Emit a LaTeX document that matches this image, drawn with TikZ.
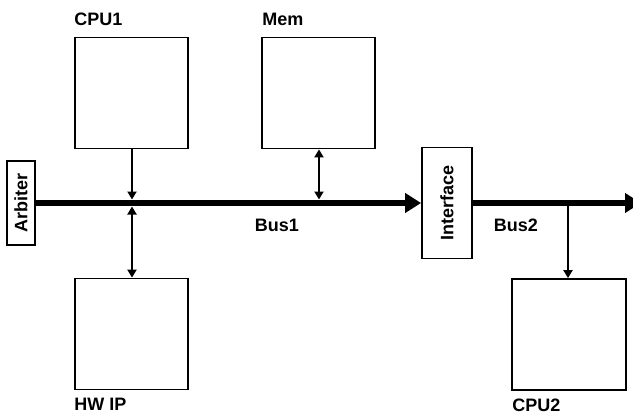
\documentclass[tikz,border=0pt]{standalone}
\usepackage{fontspec}
\setmainfont{Liberation Sans}
\usetikzlibrary{arrows.meta,positioning}

\tikzstyle{every node}=[font={\fontsize{18}{21}\selectfont\bfseries}, inner sep=0pt]
\tikzstyle{unit}=[draw=black, line width=1.8pt, minimum width=113pt, minimum height=111pt]
\tikzstyle{slim}=[draw=black, line width=1.8pt, rotate=90]
\tikzstyle{bus}=[line width=6.5pt, -{Triangle[length=16pt,width=19pt]}]
\tikzstyle{link}=[line width=2.5pt, -{Triangle[length=8pt,width=9pt]}]
\tikzstyle{duplex}=[line width=2.5pt, {Triangle[length=8pt,width=9pt]}-{Triangle[length=8pt,width=9pt]}]

\begin{document}
\begin{tikzpicture}[x=1pt, y=-1pt]
    \useasboundingbox (0,0) rectangle (633,415);

    % blocks
    \node [unit] (cpu1) at (131.5,93) {};
    \node [unit] (mem) at (318.5,93) {};
    \node [unit] (hwip) at (131.5,334) {};
    \node [unit, minimum width=114pt] (cpu2) at (569,334.5) {};
    \node [slim, minimum width=84pt, minimum height=28pt] (arb) at (21,203) {Arbiter};
    \node [slim, minimum width=111pt, minimum height=50pt] (iface) at (447,203) {Interface};

    % names
    \node [above right=11pt and 0pt of cpu1.north west] (cpu1tag) {CPU1};
    \node [above right=11pt and 1pt of mem.north west] (memtag) {Mem};
    \node [below right=8pt and 0pt of hwip.south west] (hwiptag) {HW IP};
    \node [below right=8pt and 1pt of cpu2.south west] (cpu2tag) {CPU2};
    \node (bus1tag) at (277,225) {Bus1};
    \node (bus2tag) at (516,225) {Bus2};

    % buses
    \coordinate (busend) at (641,203);
    \draw [bus] (arb.south) -- (iface.north);
    \draw [bus] (iface.south) -- (busend);

    % taps on the buses
    \coordinate (tapcpu1) at (132,199.5);
    \coordinate (taphwip) at (132,206.5);
    \coordinate (tapmem) at (319,199.5);
    \coordinate (tapcpu2) at (568,203);
    \draw [link] (cpu1.south -| tapcpu1) -- (tapcpu1);
    \draw [duplex] (taphwip) -- (hwip.north -| taphwip);
    \draw [duplex] (mem.south -| tapmem) -- (tapmem);
    \draw [link] (tapcpu2) -- (cpu2.north -| tapcpu2);
\end{tikzpicture}
\end{document}
